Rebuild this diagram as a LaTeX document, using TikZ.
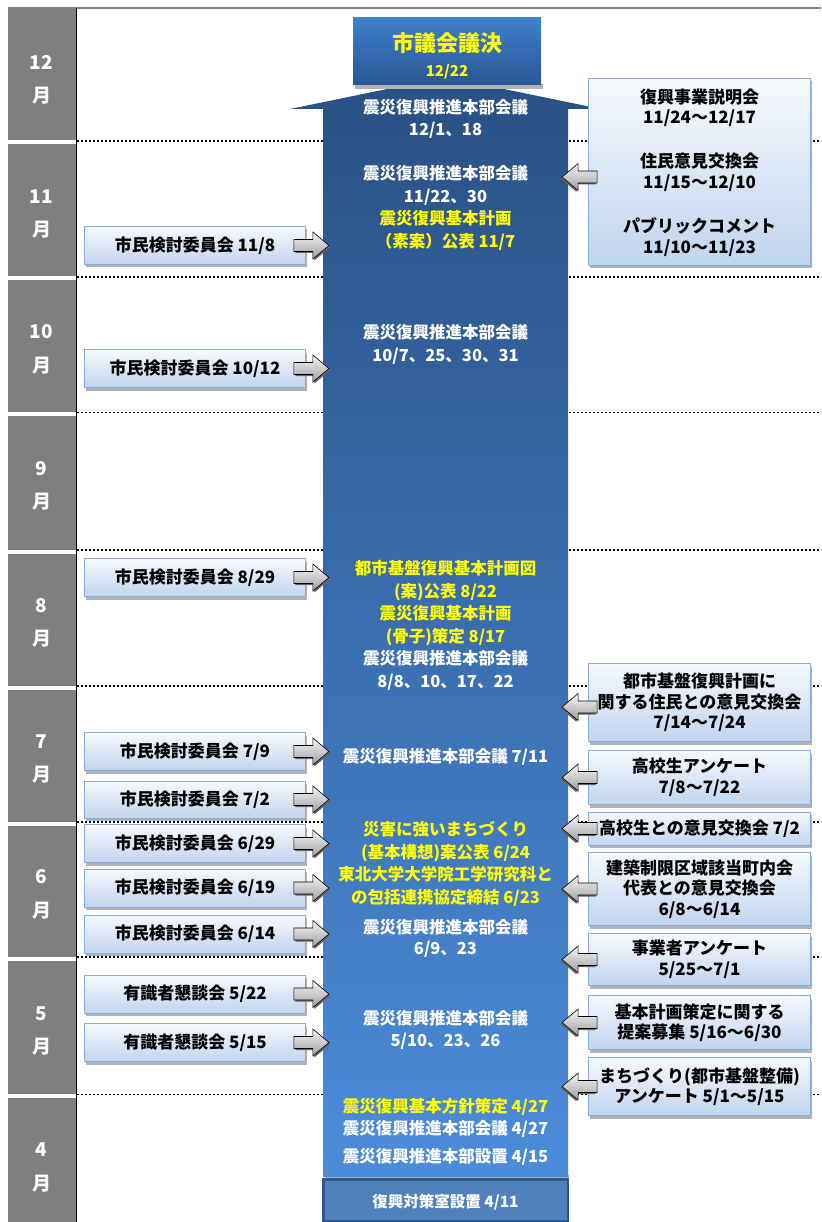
\documentclass[tikz,border=0pt]{standalone}
\usepackage{fontspec}
\setmainfont{Noto Sans CJK JP}
\usetikzlibrary{calc,shadows}
\definecolor{monthgray}{RGB}{127,127,127}
\definecolor{boxtop}{RGB}{246,249,253}
\definecolor{boxbot}{RGB}{193,213,239}
\definecolor{boxedge}{RGB}{135,171,220}
\definecolor{arrtop}{RGB}{246,246,246}
\definecolor{arrbot}{RGB}{158,158,158}
\definecolor{ctop}{RGB}{42,80,132}
\definecolor{cmid}{RGB}{62,118,192}
\definecolor{cbot}{RGB}{75,140,218}
\definecolor{kettop}{RGB}{62,128,206}
\definecolor{ketbot}{RGB}{42,86,146}
\definecolor{taifill}{RGB}{79,129,189}
\definecolor{taiedge}{RGB}{50,86,134}
\definecolor{hy}{RGB}{255,255,0}
\newcommand{\btxt}{\fontsize{17}{20.5}\selectfont\bfseries}
\newcommand{\ctxtfont}{\fontsize{16.5}{22.6}\selectfont\bfseries}
\tikzset{
  lbox/.style={draw=boxedge, line width=0.8pt, top color=boxtop, bottom color=boxbot,
    minimum width=221, minimum height=38, inner sep=0pt, font=\btxt, text=black, align=center,
    drop shadow={shadow xshift=1pt, shadow yshift=-3pt, fill=gray!60, opacity=1}},
  rbox/.style={lbox, minimum width=222},
  btext/.style={font=\btxt, text=black, align=center, inner sep=0pt},
  ctext/.style={font=\ctxtfont, text=white, align=center, inner sep=0pt},
  ytext/.style={ctext, text=hy},
  mlab/.style={font=\fontsize{19}{20}\selectfont\bfseries, text=white, inner sep=0pt},
  dotline/.style={black, line width=1.4pt, dash pattern=on 2pt off 2pt},
  blkarrow/.pic={
    \fill[black!60, shift={(1.5,1.5)}] (0,-6) -- (19,-6) -- (19,-13.5) -- (35,0) -- (19,13.5) -- (19,6) -- (0,6) -- cycle;
    \shadedraw[draw=black, line width=0.6pt, top color=arrtop, bottom color=arrbot]
      (0,-6) -- (19,-6) -- (19,-13.5) -- (35,0) -- (19,13.5) -- (19,6) -- (0,6) -- cycle;
  }
}
\begin{document}
\begin{tikzpicture}[x=1pt,y=-1pt]
\useasboundingbox (0,0) rectangle (821,1222);
\fill[white] (0,0) rectangle (821,1222);
% month column
\foreach \a/\b in {9/140.5, 144.5/276.5, 280.5/411.5, 415.5/549.5, 553.5/685.5, 689.5/821.5, 825.5/956.5, 960.5/1094, 1098/1222}
  \fill[monthgray] (8,\a) rectangle (75.5,\b);
\foreach \c/\t [count=\i] in {74.5/12, 209/11, 344.5/10, 481/9, 618/8, 754/7, 889.5/6, 1025.75/5}{
  \node[mlab] (mn\i) at (41.5,\c-12.5) {\t};
  \node[mlab] (my\i) at (41.5,\c+21) {月};
}
\node[mlab] (mn9) at (41.5,1150) {4};
\node[mlab] (my9) at (41.5,1184) {月};
% top line and column line
\draw[gray, line width=1.2pt] (8,8) -- (821,8);
\draw[black, line width=1pt] (76,8.5) -- (76,1222);
% dotted month boundaries
\foreach \y in {141, 277, 412.5, 550, 686, 822, 957, 1094.5}
  \draw[dotline] (77,\y) -- (821,\y);
% central arrow
\fill[gray!60] (325,1175) rectangle (569,1179);
\shade[top color=ctop, middle color=cmid, bottom color=cbot]
  (323,1177) -- (323,109) -- (290,109) -- (445.5,77) -- (601,109) -- (568,109) -- (568,1177) -- cycle;
% top box
\fill[gray!60] (355,84) rectangle (543,89);
\node[top color=kettop, bottom color=ketbot, minimum width=188, minimum height=67, inner sep=0pt] (kettei) at (447,51.5) {};
\node[font=\fontsize{22}{24}\selectfont\bfseries, text=hy, inner sep=0pt] (kt1) at (447,43) {市議会議決};
\node[font=\fontsize{15}{16}\selectfont\bfseries, text=hy, inner sep=0pt] (kt2) at (447,72) {12/22};
% bottom box
\node[draw=taiedge, line width=2.5pt, fill=taifill, minimum width=244.5, minimum height=41.5, inner sep=0pt] (taisaku) at (445.5,1200) {};
\node[font=\fontsize{15.5}{18}\selectfont\bfseries, text=white, inner sep=0pt] (tai) at (445.5,1202) {復興対策室設置 4/11};
% left boxes
\node[lbox] (L1) at (195,245.5) {市民検討委員会 11/8};
\node[lbox] (L2) at (195,368.5) {市民検討委員会 10/12};
\node[lbox] (L3) at (195,577.5) {市民検討委員会 8/29};
\node[lbox] (L4) at (195,751.5) {市民検討委員会 7/9};
\node[lbox, minimum height=37] (L5) at (195,799.5) {市民検討委員会 7/2};
\node[lbox] (L6) at (195,843.5) {市民検討委員会 6/29};
\node[lbox] (L7) at (195,888) {市民検討委員会 6/19};
\node[lbox] (L8) at (195,934) {市民検討委員会 6/14};
\node[lbox] (L9) at (195,994) {有識者懇談会 5/22};
\node[lbox] (L10) at (195,1042.5) {有識者懇談会 5/15};
% right boxes
\node[rbox, minimum height=187] (R1) at (699.5,172) {};
\node[btext] (R1a) at (699.5,108) {復興事業説明会\\11/24〜12/17};
\node[btext] (R1b) at (699.5,172.5) {住民意見交換会\\11/15〜12/10};
\node[btext] (R1c) at (699.5,237) {パブリックコメント\\11/10〜11/23};
\node[rbox, minimum height=78] (R2) at (699.5,702.5) {都市基盤復興計画に\\関する住民との意見交換会\\7/14〜7/24};
\node[rbox, minimum height=54] (R3) at (699.5,777.5) {高校生アンケート\\7/8〜7/22};
\node[rbox, minimum height=33] (R4) at (699.5,828.5) {高校生との意見交換会 7/2};
\node[rbox, minimum height=73] (R5) at (699.5,889) {建築制限区域該当町内会\\代表との意見交換会\\6/8〜6/14};
\node[rbox, minimum height=52] (R6) at (699.5,959.5) {事業者アンケート\\5/25〜7/1};
\node[rbox, minimum height=54] (R7) at (699.5,1022.5) {基本計画策定に関する\\提案募集 5/16〜6/30};
\node[rbox, minimum height=58] (R8) at (699.5,1086.5) {まちづくり(都市基盤整備)\\アンケート 5/1〜5/15};
% left arrows
\foreach \n in {L1,L2,L3,L4,L5,L6,L7,L8,L9,L10}
  \pic at ($(\n.east)+(-12,0)$) {blkarrow};
% right arrows
\pic[xscale=-1] at ($(R1.west)+(9,5)$) {blkarrow};
\pic[xscale=-1] at ($(R2.west)+(9,4.5)$) {blkarrow};
\foreach \n in {R3,R4,R5,R6,R7,R8}
  \pic[xscale=-1] at ($(\n.west)+(9,0)$) {blkarrow};
% central texts
\node[ctext] (c1) at (445.5,119) {震災復興推進本部会議\\12/1、18};
\node[ctext] (c2) at (445.5,208) {震災復興推進本部会議\\11/22、30\\\textcolor{hy}{震災復興基本計画}\\\textcolor{hy}{（素案）公表 11/7}};
\node[ctext] (c3) at (445.5,344.5) {震災復興推進本部会議\\10/7、25、30、31};
\node[ctext] (c4) at (445.5,625.5) {\textcolor{hy}{都市基盤復興基本計画図}\\\textcolor{hy}{(案)公表 8/22}\\\textcolor{hy}{震災復興基本計画}\\\textcolor{hy}{(骨子)策定 8/17}\\震災復興推進本部会議\\8/8、10、17、22};
\node[ctext] (c5) at (445.5,757) {震災復興推進本部会議 7/11};
\node[ytext] (c6) at (445.5,864) {災害に強いまちづくり\\(基本構想)案公表 6/24\\東北大学大学院工学研究科と\\の包括連携協定締結 6/23};
\node[ctext, font=\fontsize{16.5}{21}\selectfont\bfseries] (c7) at (445.5,938) {震災復興推進本部会議\\6/9、23};
\node[ctext] (c8) at (445.5,1030) {震災復興推進本部会議\\5/10、23、26};
\node[ytext] (c9) at (445.5,1107) {震災復興基本方針策定 4/27};
\node[ctext] (c10) at (445.5,1129) {震災復興推進本部会議 4/27};
\node[ctext] (c11) at (445.5,1157) {震災復興推進本部設置 4/15};
\end{tikzpicture}
\end{document}
